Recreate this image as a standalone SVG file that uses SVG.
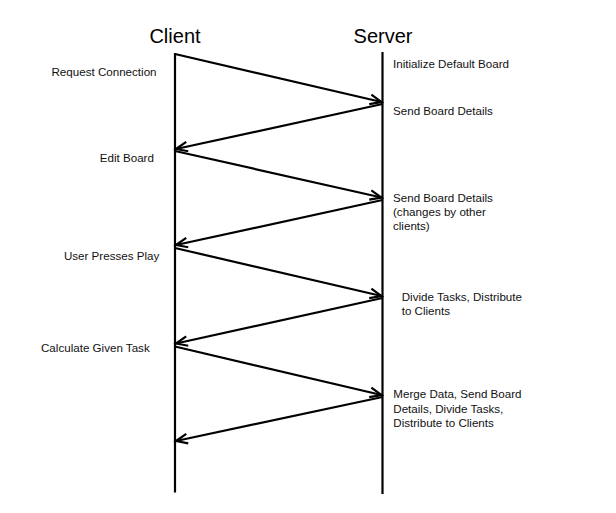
<svg xmlns="http://www.w3.org/2000/svg" width="616" height="513" viewBox="0 0 616 513">
<style>
  .title { font-family: "Liberation Sans", Arial, sans-serif; font-size: 20px; fill: #000; text-anchor: middle; }
  .lbl { font-family: "Liberation Sans", Arial, sans-serif; font-size: 11.6px; fill: #111; }
  .life { stroke: #000; stroke-width: 2.2; fill: none; }
  .msg { stroke: #000; stroke-width: 2.2; fill: none; marker-end: url(#arr); }
</style>
<defs>
  <marker id="arr" markerUnits="userSpaceOnUse" viewBox="-14 -7 16 14" refX="0" refY="0" markerWidth="16" markerHeight="14" orient="auto" overflow="visible">
    <path d="M-11.5,-4.8 L0,0 L-11.5,4.8" fill="none" stroke="#000" stroke-width="2.2" stroke-linejoin="miter"/>
  </marker>
</defs>
<rect width="616" height="513" fill="#fff"/>

<g id="client">
  <text class="title" x="175" y="42.5">Client</text>
  <line class="life" x1="175" y1="53" x2="175" y2="492.5"/>
</g>
<g id="server">
  <text class="title" x="383" y="42.5">Server</text>
  <line class="life" x1="382.5" y1="52" x2="382.5" y2="494"/>
</g>

<g id="client-labels">
  <text class="lbl" x="51.5" y="76">Request Connection</text>
  <text class="lbl" x="99.8" y="161.7">Edit Board</text>
  <text class="lbl" x="63.9" y="260">User Presses Play</text>
  <text class="lbl" x="41" y="352.3">Calculate Given Task</text>
</g>

<g id="server-labels">
  <text class="lbl" x="393" y="67.5">Initialize Default Board</text>
  <text class="lbl" x="393" y="114.5">Send Board Details</text>
  <text class="lbl" x="393" y="201.5">Send Board Details</text>
  <text class="lbl" x="393" y="216">(changes by other</text>
  <text class="lbl" x="393" y="230">clients)</text>
  <text class="lbl" x="401.7" y="300.7">Divide Tasks, Distribute</text>
  <text class="lbl" x="401.7" y="315">to Clients</text>
  <text class="lbl" x="393.3" y="398.3">Merge Data, Send Board</text>
  <text class="lbl" x="393.3" y="412.7">Details, Divide Tasks,</text>
  <text class="lbl" x="393.3" y="426.7">Distribute to Clients</text>
</g>

<g id="connectors">
  <path class="msg" d="M175,54 L381.5,102"/>
  <path class="msg" d="M382.5,104 L176,149"/>
  <path class="msg" d="M175,151 L381.5,197.5"/>
  <path class="msg" d="M382.5,200 L176,245"/>
  <path class="msg" d="M175,248 L381.5,296"/>
  <path class="msg" d="M382.5,298 L176,343.5"/>
  <path class="msg" d="M175,346.5 L381.5,395"/>
  <path class="msg" d="M382.5,397 L176,441"/>
</g>
</svg>
